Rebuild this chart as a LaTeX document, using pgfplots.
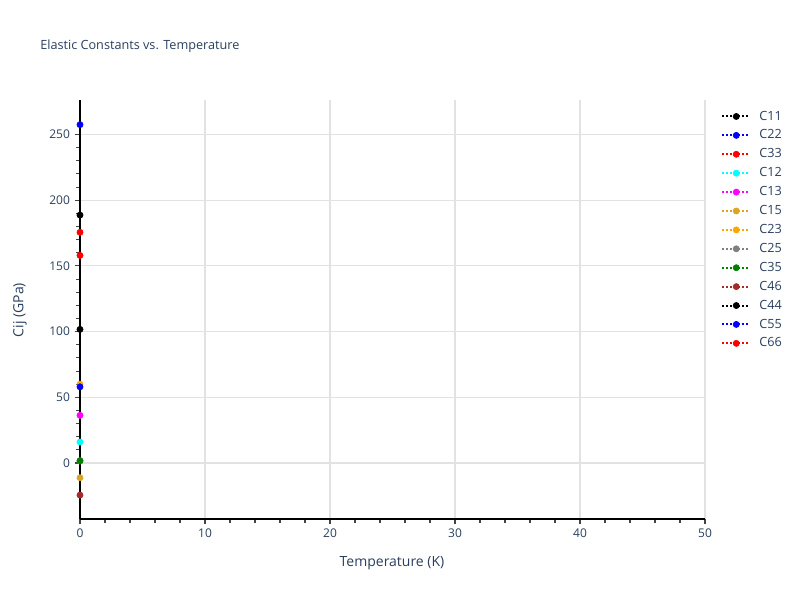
\documentclass[border=0pt]{standalone}
\usepackage{fontspec}
\setmainfont{Open Sans}
\usepackage{pgfplots}
\pgfplotsset{compat=1.18}
\definecolor{txt}{RGB}{42,63,95}
\definecolor{gridc}{RGB}{226,226,226}
\definecolor{tickc}{RGB}{68,68,68}
\definecolor{ccyan}{RGB}{0,255,255}
\definecolor{cmagenta}{RGB}{255,0,255}
\definecolor{cblue}{RGB}{0,0,255}
\definecolor{cred}{RGB}{255,0,0}
\definecolor{cgold}{RGB}{218,165,32}
\definecolor{corange}{RGB}{255,165,0}
\definecolor{cgreen}{RGB}{0,128,0}
\definecolor{cbrown}{RGB}{165,42,42}
\definecolor{cgray}{RGB}{128,128,128}

\pgfplotsset{
  cser/.style={dash pattern=on 1.5pt off 1.5pt, line width=1.5pt, color=#1, mark=*, mark size=2.3pt, mark options={solid, fill=#1, line width=0.5pt}},
}

\begin{document}
\begin{tikzpicture}
\path[use as bounding box] (0,0) rectangle (600pt,450pt);

\begin{axis}[
  at={(60pt,60.75pt)}, anchor=south west,
  scale only axis,
  width=468.75pt, height=314.25pt,
  xmin=0, xmax=50,
  ymin=-42.6, ymax=276.3,
  axis x line*=bottom, axis y line*=left,
  axis line style={black, line width=1pt},
  xtick={0,10,...,50}, ytick={0,50,...,250},
  minor x tick num=4, minor y tick num=4,
  tick align=outside,
  major tick length=4pt, minor tick length=3pt,
  tick style={tickc, line width=0.8pt},
  grid=major,
  major grid style={gridc, line width=0.8pt},
  ticklabel style={font=\fontsize{9}{10}\selectfont, text=txt},
  /pgf/number format/assume math mode=true,
  clip=false,
  legend style={
    at={(1.0256,0.981)}, anchor=north west,
    draw=none, fill=none,
    font=\fontsize{9.5}{11}\selectfont, text=txt,
    row sep=1.8pt,
    inner sep=0pt,
    legend cell align=left,
    nodes={inner xsep=6pt},
  },
  legend image code/.code={
    \draw[mark repeat=2, mark phase=2] plot coordinates {(0pt,0pt) (10.5pt,0pt) (21pt,0pt)};
  },
]
% zero line
\addplot[forget plot, draw=gridc, line width=1.6pt] coordinates {(0,0) (50,0)};

\addplot[cser=black]    coordinates {(0,188.7)}; \addlegendentry{C11}
\addplot[cser=cblue]    coordinates {(0,257.5)}; \addlegendentry{C22}
\addplot[cser=cred]     coordinates {(0,175.6)}; \addlegendentry{C33}
\addplot[cser=ccyan]    coordinates {(0,16.0)};  \addlegendentry{C12}
\addplot[cser=cmagenta] coordinates {(0,36.3)};  \addlegendentry{C13}
\addplot[cser=cgold]    coordinates {(0,-11.2)}; \addlegendentry{C15}
\addplot[cser=corange]  coordinates {(0,60.0)};  \addlegendentry{C23}
\addplot[cser=cgray]    coordinates {(0,1.5)};   \addlegendentry{C25}
\addplot[cser=cgreen]   coordinates {(0,1.8)};   \addlegendentry{C35}
\addplot[cser=cbrown]   coordinates {(0,-24.4)}; \addlegendentry{C46}
\addplot[cser=black]    coordinates {(0,101.7)}; \addlegendentry{C44}
\addplot[cser=cblue]    coordinates {(0,58.0)};  \addlegendentry{C55}
\addplot[cser=cred]     coordinates {(0,158.0)}; \addlegendentry{C66}
\end{axis}

\node[anchor=west, inner sep=0pt, text=txt, font=\fontsize{9.5}{11}\selectfont] at (30pt,415.5pt) {Elastic Constants vs. Temperature};
\node[text=txt, font=\fontsize{10.5}{12}\selectfont, rotate=90] at (15pt,217.5pt) {Cij (GPa)};
\node[text=txt, font=\fontsize{10.5}{12}\selectfont] at (294pt,27.75pt) {Temperature (K)};
\end{tikzpicture}
\end{document}
